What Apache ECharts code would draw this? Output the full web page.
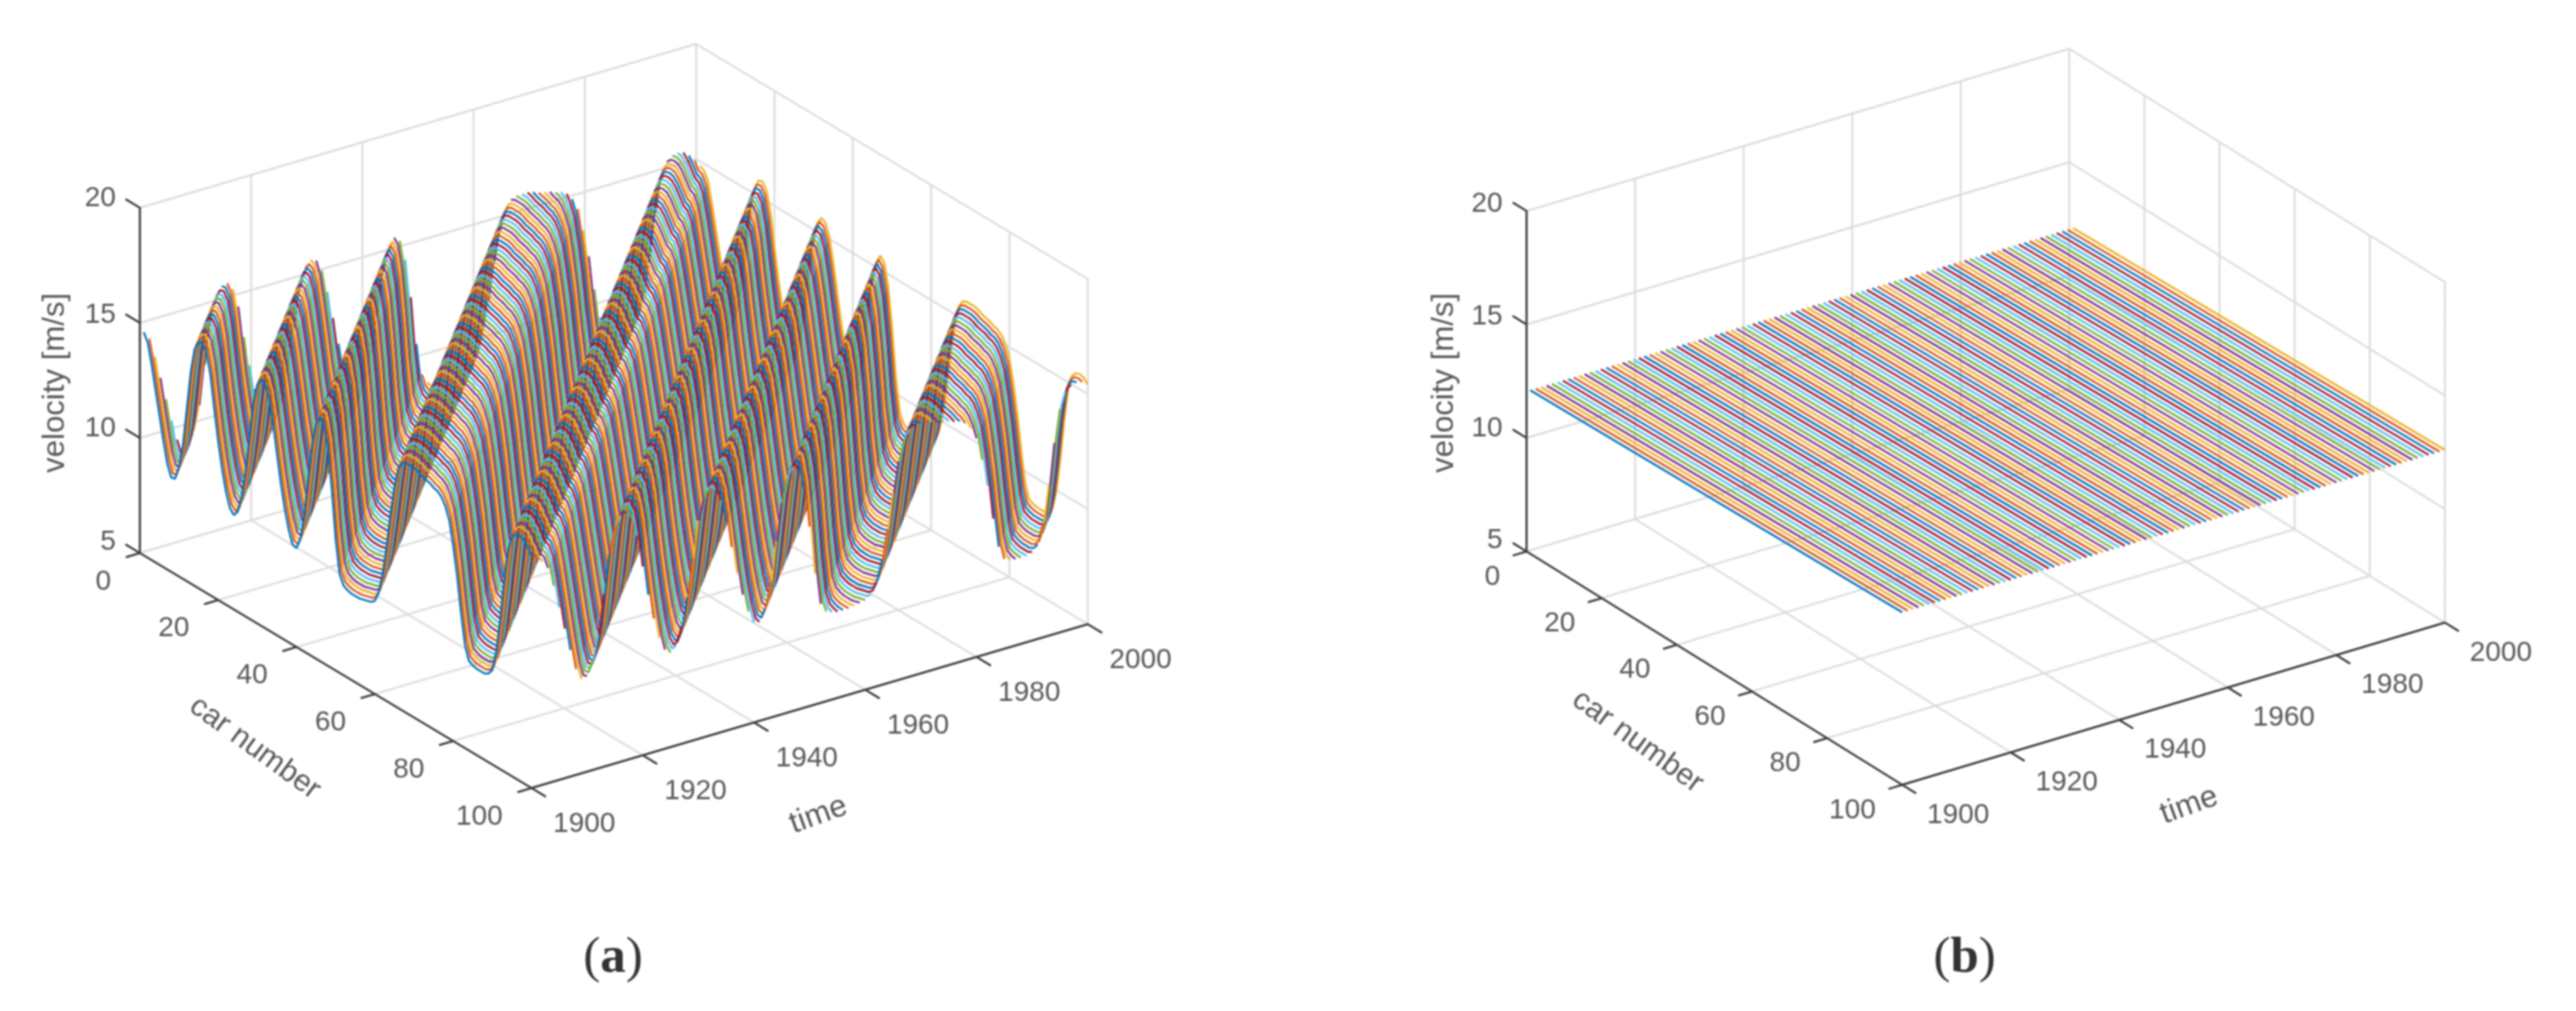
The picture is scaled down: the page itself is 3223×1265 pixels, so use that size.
<!DOCTYPE html>
<html>
<head>
<meta charset="utf-8">
<title>velocity waterfall</title>
<script src="https://cdn.jsdelivr.net/npm/echarts@6/dist/echarts.min.js"></script>
<style>
  html, body { margin: 0; padding: 0; background: #fff; }
  #chart { width: 3223px; height: 1265px; filter: blur(0.9px); }
</style>
</head>
<body>
<div id="chart"></div>
<script>
// tick labels
const carTicks = [0, 20, 40, 60, 80, 100]
const timeTicks = [1900, 1920, 1940, 1960, 1980, 2000]
const velocityTicks = [5, 10, 15, 20]

// line colours, one per time step, repeating
const lineColors = ["#0072BD", "#D95319", "#EDB120", "#7E2F8E", "#77AC30", "#4DBEEE", "#A2142F"]

// panel (a): velocity read off the t=1900 line, car by car. The wave moves one
// car per time step around the ring, so later lines read the same list shifted.
const waveVelocity = [
  14.80, 14.70, 14.35, 13.50, 12.50, 11.50, 10.50, 9.60, 9.10, 9.15,
  9.80, 10.80, 12.50, 14.20, 15.30, 15.70, 15.75, 15.45, 14.60, 13.20,
  11.90, 10.80, 9.90, 9.30, 9.10, 9.35, 10.10, 11.30, 12.90, 14.50,
  15.40, 15.70, 15.60, 15.10, 14.10, 12.90, 11.70, 10.70, 9.90, 9.35,
  9.30, 9.80, 10.90, 12.60, 14.20, 15.20, 15.60, 15.40, 14.50, 12.80,
  10.70, 9.30, 8.90, 8.80, 8.75, 8.75, 8.75, 8.80, 8.85, 8.90,
  9.05, 9.50, 10.40, 11.70, 13.20, 14.50, 15.40, 15.75, 15.85, 15.85,
  15.85, 15.80, 15.70, 15.65, 15.60, 15.50, 15.45, 15.30, 15.00, 14.50,
  13.50, 12.30, 10.80, 9.50, 8.90, 8.80, 8.75, 8.75, 8.75, 8.85,
  9.10, 10.00, 11.50, 13.30, 14.70, 15.40, 15.60, 15.65, 15.60, 15.40,
  15.10,
]

// panel (b): steady state, each line only has its two end cars
const steadyCars = [1, 100]
const steadyVelocity = [12.2, 12.6]

// 3D box of each panel on the page: floor corner, car and time directions, z scale
const panels = [
  { name: "a", left: 0, width: 1612, origin: [175, 692], carEnd: [665, 986], timeEnd: [871, 487], zPx: 28.8,
    zLabelDx: -30, zLabelDy: [-14, -12, -10, -12], carLabel: [-36, 36], timeLabel: [66, 45],
    velocityPos: [69, 479], carPos: [319, 936], timePos: [1024, 1020], captionPos: [767, 1199] },
  { name: "b", left: 1612, width: 1611, origin: [1910, 690], carEnd: [2380, 982], timeEnd: [2589, 487], zPx: 28.4,
    zLabelDx: -30, zLabelDy: [-14, -12, -10, -9], carLabel: [-33, 32], timeLabel: [70, 38],
    velocityPos: [1807, 479], carPos: [2049, 928], timePos: [2739, 1008], captionPos: [2458, 1199] },
]

function project(p, car, time, v) {
  const u = car / 100
  const s = (time - 1900) / 100
  return [
    p.origin[0] + u * (p.carEnd[0] - p.origin[0]) + s * (p.timeEnd[0] - p.origin[0]),
    p.origin[1] + u * (p.carEnd[1] - p.origin[1]) + s * (p.timeEnd[1] - p.origin[1]) - (v - 5) * p.zPx,
  ]
}

function segmentSeries(i, segments, color, width) {
  const data = []
  segments.forEach(seg => {
    seg.forEach(pt => data.push(pt))
    data.push([NaN, NaN])
  })
  return {
    type: "line", xAxisIndex: i, yAxisIndex: i, data, symbol: "none", silent: true, clip: false,
    connectNulls: false, lineStyle: { color, width, cap: "round" },
  }
}

function gridSegments(p) {
  const segs = []
  carTicks.forEach(c => {
    segs.push([project(p, c, 1900, 5), project(p, c, 2000, 5), project(p, c, 2000, 20)])
  })
  timeTicks.forEach(t => {
    segs.push([project(p, 100, t, 5), project(p, 0, t, 5), project(p, 0, t, 20)])
  })
  velocityTicks.forEach(v => {
    segs.push([project(p, 0, 1900, v), project(p, 0, 2000, v), project(p, 100, 2000, v)])
  })
  return segs
}

function axisSegments(p) {
  const segs = [
    [project(p, 0, 1900, 20), project(p, 0, 1900, 5), project(p, 100, 1900, 5), project(p, 100, 2000, 5)],
  ]
  velocityTicks.forEach(v => segs.push([project(p, 0, 1900, v), project(p, -3.5, 1900, v)]))
  carTicks.forEach(c => segs.push([project(p, c, 1900, 5), project(p, c, 1897.6, 5)]))
  timeTicks.forEach(t => segs.push([project(p, 100, t, 5), project(p, 103.5, t, 5)]))
  return segs
}

function labelSeries(i, p) {
  const tickStyle = { fontFamily: "Liberation Sans", fontSize: 35, color: "#2e2e2e" }
  const item = (pos, text, extra) => ({
    value: pos,
    label: Object.assign({ show: true, position: "inside", formatter: text, align: "center", verticalAlign: "middle" }, tickStyle, extra),
  })
  const data = []
  velocityTicks.forEach((v, k) => {
    const pt = project(p, 0, 1900, v)
    data.push(item([pt[0] + p.zLabelDx, pt[1] + p.zLabelDy[k]], String(v), { align: "right" }))
  })
  carTicks.forEach(c => {
    const pt = project(p, c, 1900, 5)
    data.push(item([pt[0] + p.carLabel[0], pt[1] + p.carLabel[1]], String(c), { align: "right" }))
  })
  timeTicks.forEach(t => {
    const pt = project(p, 100, t, 5)
    data.push(item([pt[0] + p.timeLabel[0], pt[1] + p.timeLabel[1]], String(t)))
  })
  data.push(item(p.velocityPos, "velocity [m/s]", { rotate: 90, fontSize: 39 }))
  data.push(item(p.carPos, "car number", { rotate: -36, fontSize: 38 }))
  data.push(item(p.timePos, "time", { rotate: 20, fontSize: 39 }))
  data.push(item(p.captionPos, "{p|(}{b|" + p.name + "}{p|)}", {
    rich: {
      p: { fontFamily: "Liberation Serif", fontSize: 64, color: "#000" },
      b: { fontFamily: "Liberation Serif", fontSize: 64, fontWeight: "bold", color: "#000" },
    },
  }))
  return {
    type: "scatter", xAxisIndex: i, yAxisIndex: i, data, symbolSize: 0, silent: true, clip: false, z: 5,
  }
}

function waveLine(p, step) {
  const data = []
  for (let car = 1; car <= 100; car++) {
    data.push(project(p, car, 1900 + step, waveVelocity[(car + step) % waveVelocity.length]))
  }
  return data
}

function steadyLine(p, step) {
  return steadyCars.map((car, k) => project(p, car, 1900 + step, steadyVelocity[k]))
}

const series = []
panels.forEach((p, i) => {
  series.push(segmentSeries(i, gridSegments(p), "#dcdcdc", 2.4))
  series.push(segmentSeries(i, axisSegments(p), "#383838", 2.6))
  // nearest line (t=1900) goes last so it sits on top
  for (let step = 100; step >= 0; step--) {
    series.push({
      type: "line", xAxisIndex: i, yAxisIndex: i, symbol: "none", silent: true, clip: false,
      data: i === 0 ? waveLine(p, step) : steadyLine(p, step),
      lineStyle: { color: lineColors[step % lineColors.length], width: 2.5 },
    })
  }
  series.push(labelSeries(i, p))
})

const chart = echarts.init(document.getElementById("chart"), null, { renderer: "canvas" })
chart.setOption({
  backgroundColor: "#fff",
  animation: false,
  tooltip: { show: false },
  grid: panels.map(p => ({ left: p.left, top: 0, width: p.width, height: 1265 })),
  xAxis: panels.map((p, i) => ({ type: "value", gridIndex: i, min: p.left, max: p.left + p.width, show: false })),
  yAxis: panels.map((p, i) => ({ type: "value", gridIndex: i, min: 0, max: 1265, inverse: true, show: false })),
  series,
})
window.addEventListener("resize", () => chart.resize())
</script>
</body>
</html>
